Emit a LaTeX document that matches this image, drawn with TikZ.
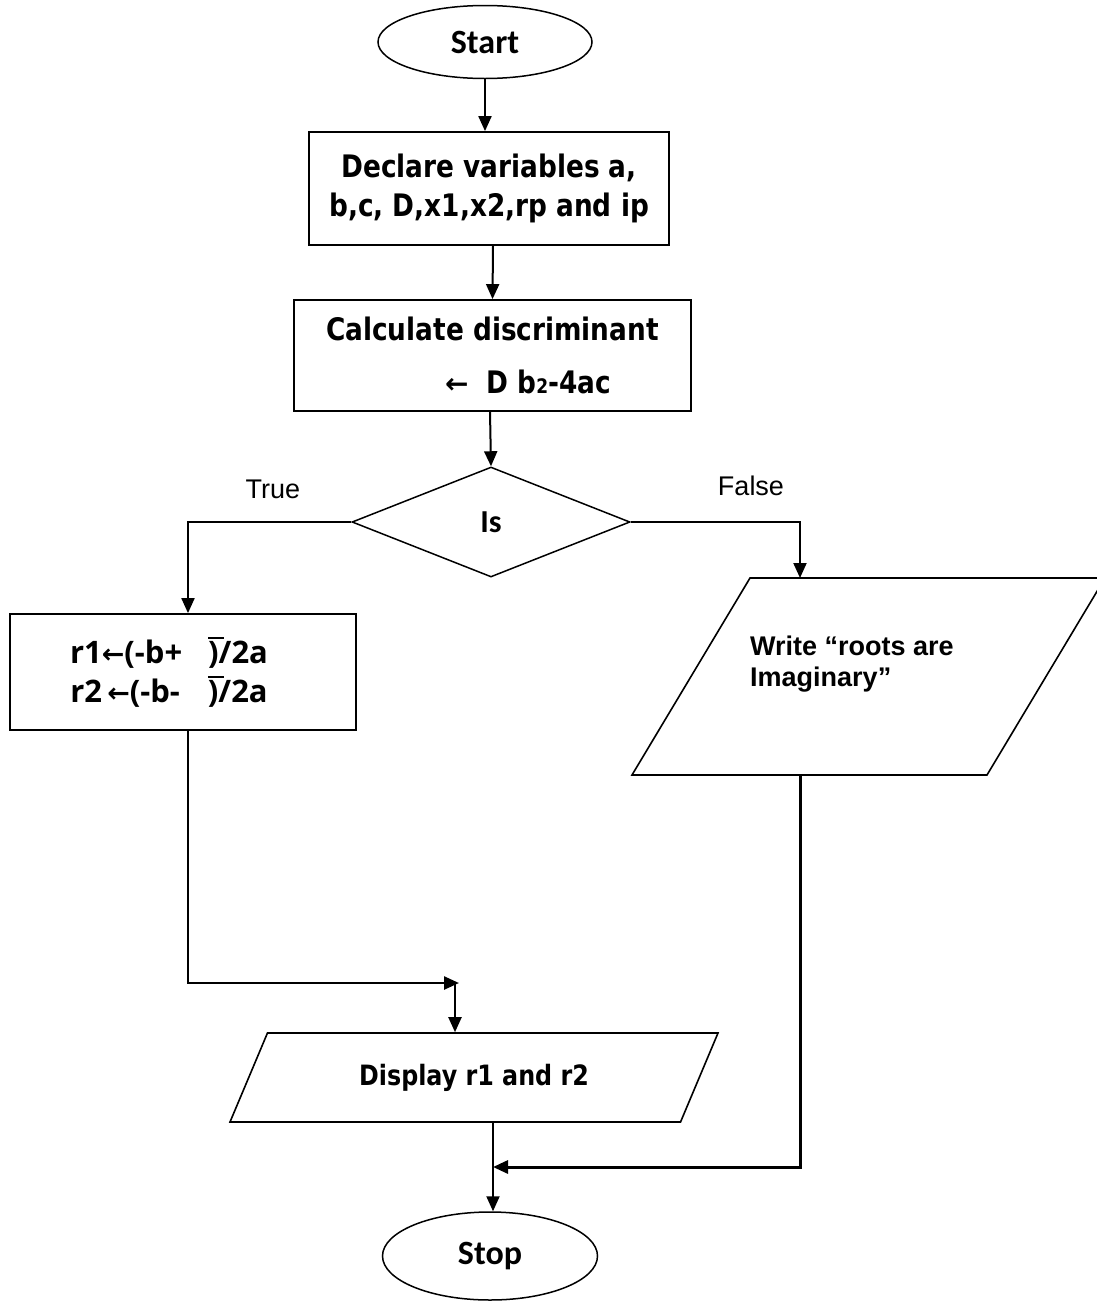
\documentclass[tikz,border=0pt]{standalone}
\usepackage{fontspec}
\usetikzlibrary{shapes.geometric,arrows.meta}
\newfontfamily\tah[FakeStretch=0.85]{DejaVu Sans}
\newfontfamily\dvf{DejaVu Sans}
\newfontfamily\calfont{Carlito}
\newfontfamily\osans{Open Sans}
\newfontfamily\arialf{Liberation Sans}
\newcommand\fs[2]{\fontsize{#1}{#2}\selectfont}
\newcommand\arw{{\dvf\bfseries\fs{27}{27}←}}
\newcommand\ovl[1]{\makebox[0pt][l]{\rule[24pt]{16pt}{2pt}}#1}
\tikzset{
  box/.style={draw, rectangle, line width=1.8pt, inner sep=0pt},
  term/.style={draw, ellipse, line width=1.5pt, inner sep=0pt},
  para/.style={draw, trapezium, line width=1.6pt, inner sep=0pt, trapezium stretches body},
  paraline/.style={line width=1.6pt, line join=miter},
  arr/.style={line width=2pt, -{Triangle[length=15pt,width=13pt]}},
}
\begin{document}
\begin{tikzpicture}[x=1pt,y=-1pt]
\fill[white] (0,0) rectangle (1097,1302);
\useasboundingbox (0,0) rectangle (1097,1302);

\node[term, minimum width=214, minimum height=73, font=\calfont\bfseries\fs{34}{40}] (start) at (485,42) {Start};
\node[box, minimum width=360, minimum height=113, align=center, font=\tah\bfseries\fs{31}{39}] (decl) at (489,188.5) {Declare variables a,\\b,c, D,x1,x2,rp and ip};
\node[box, minimum width=397, minimum height=111, align=center, font=\tah\bfseries\fs{31}{53}] (calc) at (492.5,355.5) {Calculate discriminant\\\hspace*{71pt}{\dvf\bfseries\fs{28}{28}←}\hspace{18pt}D b{\fs{20}{20}2}-4ac};
\node[draw, diamond, line width=1.5pt, minimum width=278, minimum height=110, inner sep=0pt, aspect=2.53, font=\calfont\bfseries\fs{32}{32}] (dec) at (491,522) {Is};
\node[box, minimum width=346, minimum height=116, align=center, font=\osans\bfseries\fs{31}{39}] (r) at (183,672) {r1\arw(-b+\hspace{26pt}\ovl)/2a\hspace*{28pt}\\r2\,\arw(-b-\hspace{28pt}\ovl)/2a\hspace*{28pt}};

% output parallelogram "Write roots are imaginary"
\coordinate (wbl) at (632,775);
\coordinate (wtl) at (750,578);
\coordinate (wtr) at (1105,578);
\coordinate (wbr) at (987,775);
\draw[paraline] (wbl) -- (wtl) -- (wtr) -- (wbr) -- cycle;
\node[anchor=north west, inner sep=0pt, align=left, font=\arialf\bfseries\fs{27}{31}] (wt) at (750,636) {Write “roots are\\Imaginary”};

\node[para, trapezium left angle=36.1, trapezium right angle=143.9, minimum width=488, minimum height=89, font=\tah\bfseries\fs{28}{28}] (disp) at (474,1077.5) {Display r1 and r2};
\node[term, minimum width=215, minimum height=88, font=\calfont\bfseries\fs{34}{40}] (stop) at (490,1256) {Stop};
\node[font=\arialf\fs{27}{27}] (tl) at (273,489) {True};
\node[font=\arialf\fs{27}{27}] (fl) at (751,486) {False};

\coordinate (fx) at (800,0);
\coordinate (sx) at (493,0);
\coordinate (j1) at (459,983);
\coordinate (j2) at (493,1167);

\draw[arr] (start.south) -- (start.south |- decl.north);
\draw[arr] ([xshift=4pt]decl.south) -- (calc.north);
\draw[arr] ([xshift=-2.5pt]calc.south) -- (dec.north);
\draw[arr] (dec.west) -| ([xshift=5pt]r.north);
\draw[arr] (dec.east) -| (fx |- wtl);
\draw[arr, line width=2.5pt] ([xshift=5pt]r.south) |- (j1);
\draw[arr] ([xshift=-4pt]j1) -- ([xshift=-4pt]j1 |- disp.north);
\draw[arr] (sx |- disp.south) -- (sx |- stop.north);
\draw[arr, line width=3pt] (fx |- wbl) |- (j2);
\end{tikzpicture}
\end{document}
